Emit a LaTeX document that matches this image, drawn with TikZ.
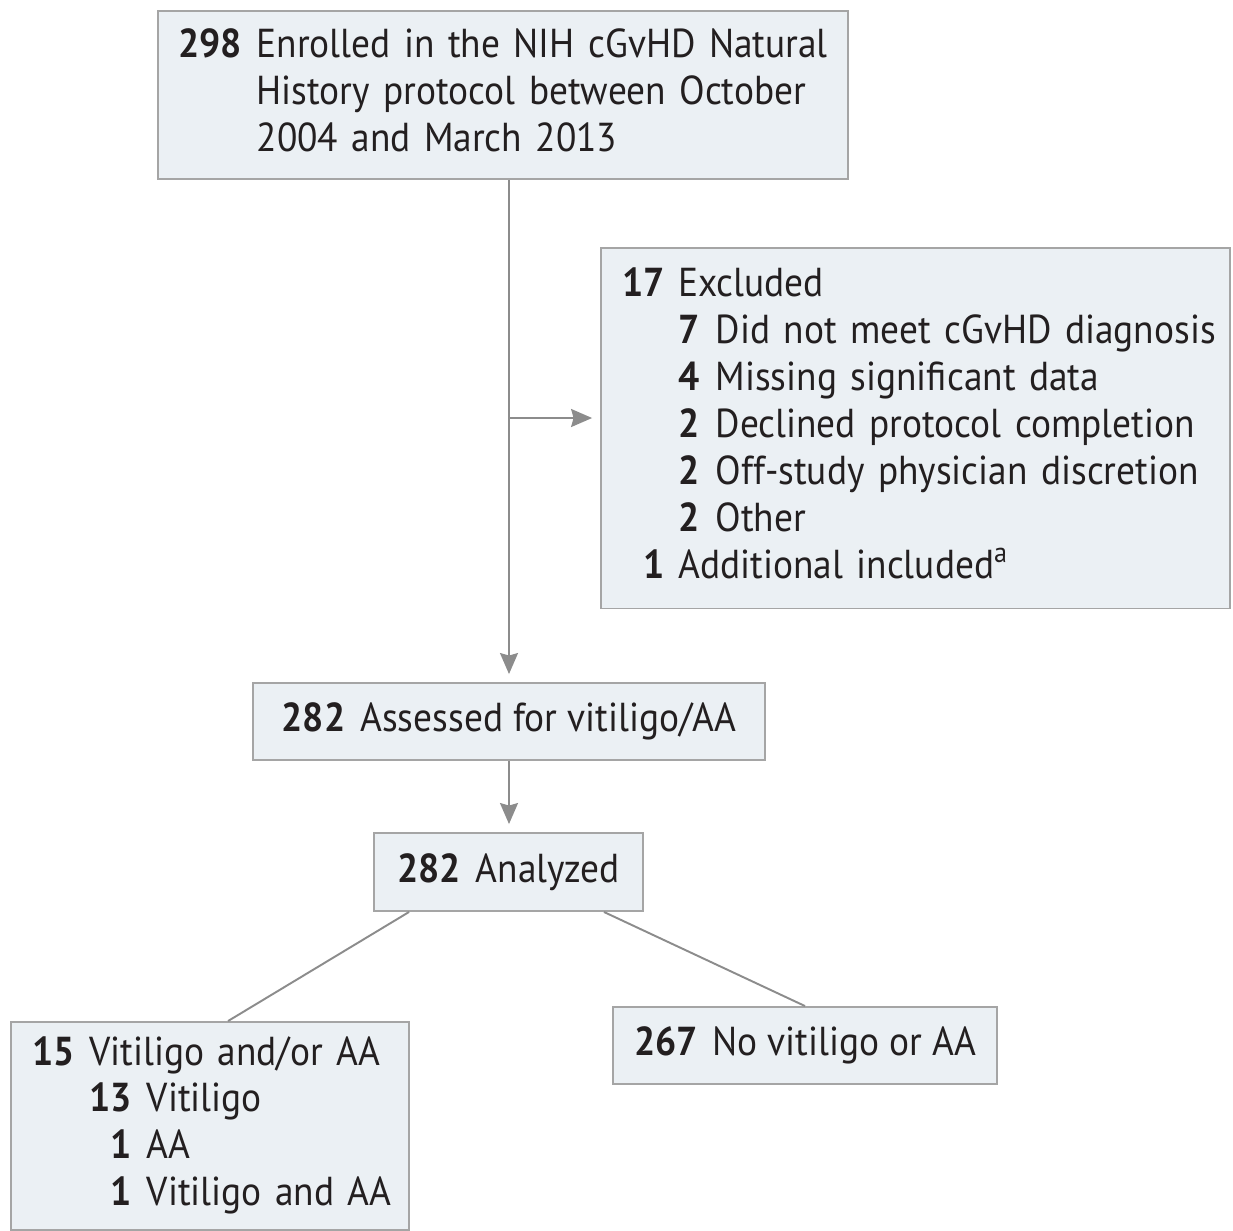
\documentclass[tikz,border=0pt]{standalone}
\usepackage{fontspec}
\setmainfont[FakeStretch=0.925]{PT Sans}
\usetikzlibrary{arrows.meta,positioning}
\definecolor{ink}{HTML}{231F20}
\definecolor{boxline}{HTML}{A5A5A5}
\definecolor{boxfill}{HTML}{EBF0F4}
\definecolor{flow}{HTML}{8C8C8C}

\begin{document}
\begin{tikzpicture}[
  x=0.02cm,y=-0.02cm,
  font=\fontsize{23}{26.7}\selectfont,
  text=ink,
  stagebox/.style={draw=boxline,fill=boxfill,line width=1.1pt,inner xsep=0.4cm,inner ysep=0pt},
  listbox/.style={stagebox,align=left},
  flowarrow/.style={-{Stealth[length=0.42cm,width=0.36cm,inset=0.05cm]},draw=flow,line width=1.1pt,shorten >=0.16cm},
  flowline/.style={draw=flow,line width=1.1pt}
]
\useasboundingbox (0,0) rectangle (1233,1230);

% Enrolment
\node[listbox,minimum width=13.8cm,minimum height=3.36cm,text width=13.0cm] (enrol) at (503,95)
  {\begin{tabular}{@{}r@{\hspace{0.3cm}}l@{}}
   \textbf{298} & Enrolled in the NIH cGvHD Natural\\
                & History protocol between October\\
                & 2004 and March 2013
   \end{tabular}};

% Exclusions
\node[listbox,minimum width=12.58cm,minimum height=7.22cm,text width=11.74cm] (excl) at (915.5,428)
  {\begin{tabular}{@{}r@{\hspace{0.28cm}}r@{\hspace{0.32cm}}l@{}}
   \textbf{17} & \multicolumn{2}{@{}l@{}}{Excluded}\\
   & \textbf{7} & Did not meet cGvHD diagnosis\\
   & \textbf{4} & Missing significant data\\
   & \textbf{2} & Declined protocol completion\\
   & \textbf{2} & Off-study physician discretion\\
   & \textbf{2} & Other\\
   \textbf{1} & \multicolumn{2}{@{}l@{}}{Additional included\textsuperscript{a}}
   \end{tabular}};

% Assessment and analysis
\node[stagebox,minimum width=10.26cm,minimum height=1.54cm] (assess) at (509,721.5)
  {\textbf{282}\hspace{0.3cm}Assessed for vitiligo/AA};
\node[stagebox,minimum width=5.38cm,minimum height=1.56cm] (anal) at (508.5,872)
  {\textbf{282}\hspace{0.3cm}Analyzed};

% Outcomes
\node[listbox,minimum width=7.96cm,minimum height=4.16cm,text width=7.12cm] (vit) at (210,1126)
  {\begin{tabular}{@{}r@{\hspace{0.3cm}}r@{\hspace{0.3cm}}l@{}}
   \textbf{15} & \multicolumn{2}{@{}l@{}}{Vitiligo and/or AA}\\
   & \textbf{13} & Vitiligo\\
   & \textbf{1} & AA\\
   & \textbf{1} & Vitiligo and AA
   \end{tabular}};
\node[stagebox,minimum width=7.68cm,minimum height=1.54cm] (novit) at (805,1045.5)
  {\textbf{267}\hspace{0.3cm}No vitiligo or AA};

% Connectors
\coordinate (split) at (assess.north |- 0,418);
\draw[flowarrow] (assess.north |- enrol.south) -- (assess.north);
\draw[flowarrow] (split) -- (excl.west |- split);
\draw[flowarrow] (assess.south) -- (anal.north -| assess.south);
\draw[flowline] ([xshift=0.72cm]anal.south west) -- ([xshift=0.36cm]vit.north);
\draw[flowline] ([xshift=-0.8cm]anal.south east) -- (novit.north);

\end{tikzpicture}
\end{document}
